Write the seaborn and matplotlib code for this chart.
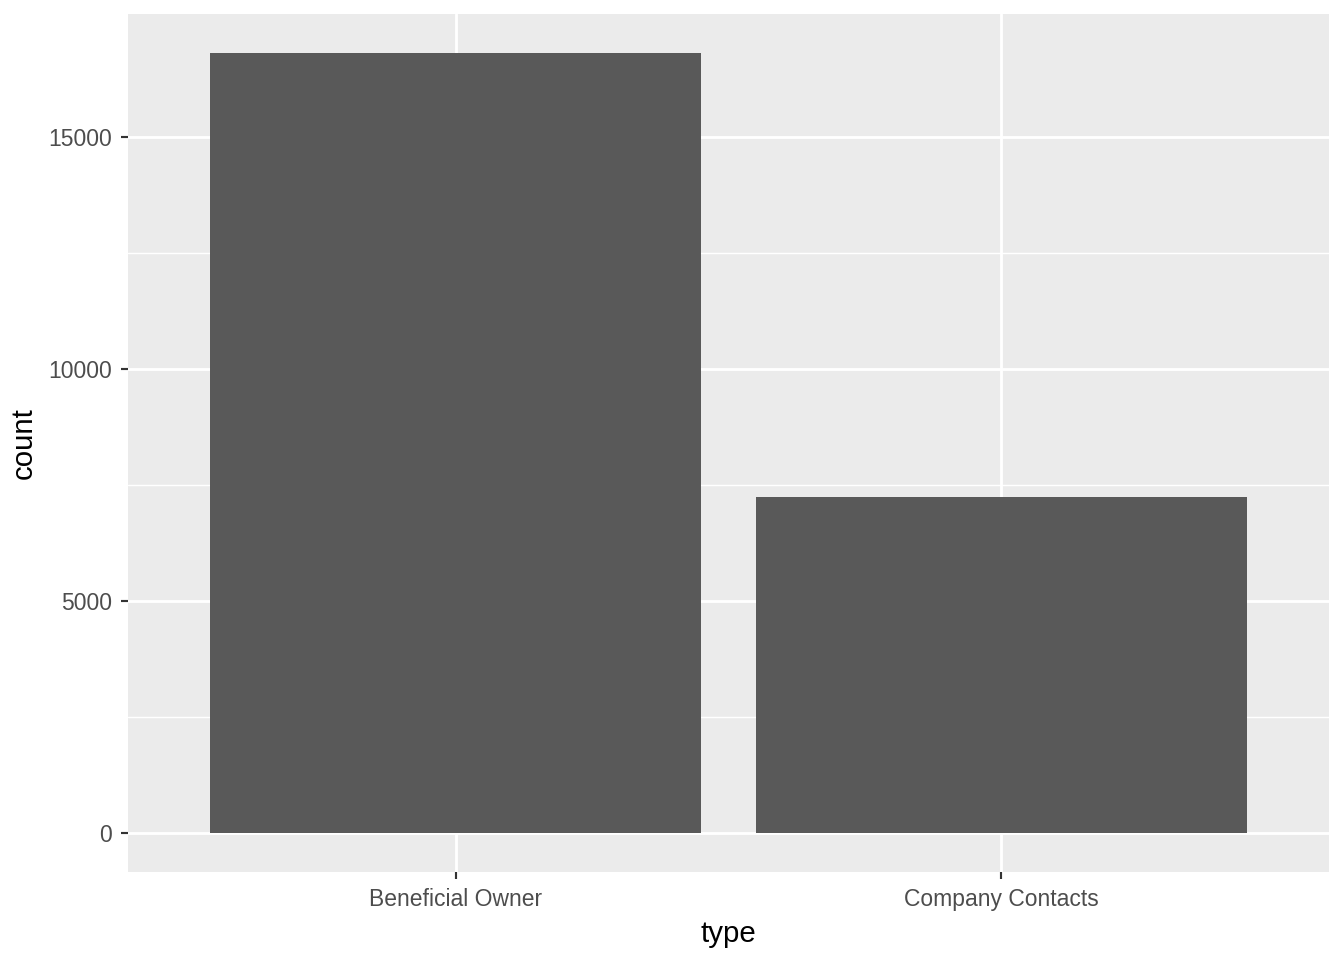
import numpy as np
import pandas as pd
import seaborn as sns
import matplotlib.pyplot as plt
from matplotlib.ticker import MultipleLocator, FixedLocator

# data
types = ["Beneficial Owner", "Company Contacts"]
counts = [16810, 7250]

df = pd.DataFrame({"type": types, "count": counts})

sns.set_style("darkgrid")
plt.rcParams['font.family'] = ['Liberation Sans', 'DejaVu Sans']

fig = plt.figure(figsize=(7, 5), dpi=192)
ax = fig.add_axes([128/1344, 1 - 872/960, (1329 - 128)/1344, (872 - 14)/960])

sns.barplot(data=df, x="type", y="count", color="#595959", saturation=1,
            width=0.9, linewidth=0, ax=ax)

ax.set_facecolor("#EBEBEB")
ax.set_xlim(-0.6, 1.6)
ymax = max(counts)
ax.set_ylim(-0.05 * ymax, 1.05 * ymax)
ax.yaxis.set_major_locator(MultipleLocator(5000))
# minor grid only between major breaks, as ggplot does
ax.yaxis.set_minor_locator(FixedLocator([2500, 7500, 12500]))
ax.grid(which="major", color="white", linewidth=1.07)
ax.grid(which="minor", axis="y", color="white", linewidth=0.53)
ax.set_axisbelow(True)
for s in ax.spines.values():
    s.set_visible(False)

ax.tick_params(axis="both", which="major", bottom=True, left=True, direction="out",
               length=2.75, width=0.8, color="#333333",
               labelcolor="#4D4D4D", labelsize=8.6, pad=3.2)
ax.tick_params(axis="y", which="minor", length=0)
ax.set_xlabel("type", fontsize=11, color="black", labelpad=3.5)
ax.set_ylabel("count", fontsize=11, color="black", labelpad=4)

fig.savefig("out.png", dpi=192)
